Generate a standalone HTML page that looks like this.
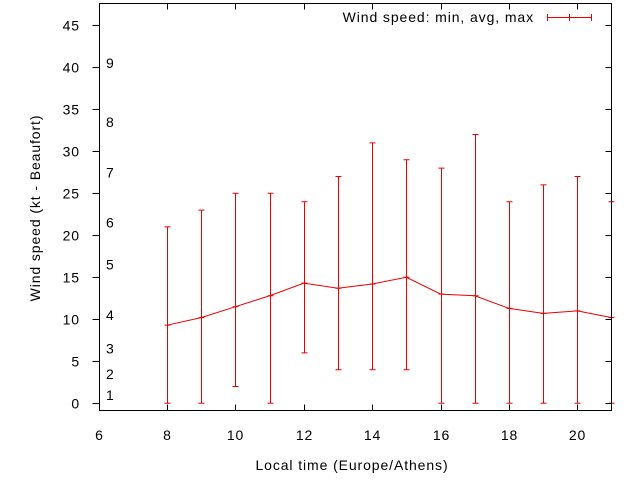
<!DOCTYPE html>
<html><head><meta charset="utf-8"><style>
html,body{margin:0;padding:0;background:#fff}
svg text{font-family:"Liberation Sans",sans-serif;font-size:14px;letter-spacing:0.9px;fill:#000}
</style></head><body>
<svg id="chart" width="640" height="480" xmlns="http://www.w3.org/2000/svg">
<g id="series"></g><g id="axes"></g>
<text x="352" y="470" text-anchor="middle">Local time (Europe/Athens)</text>
<text transform="translate(40,208) rotate(-90)" text-anchor="middle">Wind speed (kt - Beaufort)</text>
<g>
<text x="534" y="22" text-anchor="end">Wind speed: min, avg, max</text>
<path d="M547.5 17.5H591.5M547.5 14V21M569.5 14V21M591.5 14V21" stroke="#e00" stroke-width="1" fill="none"/>
</g>
</svg>
<script>
const hours=[8,9,10,11,12,13,14,15,16,17,18,19,20,21];
const avgSpeed=[9.3,10.2,11.5,12.8,14.3,13.7,14.2,15,13,12.8,11.3,10.7,11,10.2];
const minSpeed=[0,0,2,0,6,4,4,4,0,0,0,0,0,0];
const maxSpeed=[21,23,25,25,24,27,31,29,28,32,24,26,27,24];
const xTicks=[6,8,10,12,14,16,18,20];
const yTicks=[0,5,10,15,20,25,30,35,40,45];
const beaufortLabels=["1","2","3","4","5","6","7","8","9"];
const beaufortValues=[1,3.5,6.5,10.5,16.5,21.5,27.5,33.5,40.5];
const L=99.5,R=611.5,T=3.5,B=410.5;
const X=v=>98.6+(v-6)*34.2;
const Y=v=>403.3-v*8.4;
const NS="http://www.w3.org/2000/svg";
function mk(tag,attrs,parent,txt){const e=document.createElementNS(NS,tag);for(const k in attrs)e.setAttribute(k,attrs[k]);if(txt!==undefined)e.textContent=txt;parent.appendChild(e);return e;}
const sg=document.getElementById('series');
hours.forEach((h,i)=>{const x=Math.min(Math.round(X(h))+0.5,R),y1=Y(minSpeed[i]),y2=Y(maxSpeed[i]);
let e=mk('path',{d:`M${x} ${y1}V${y2}M${x-3} ${y1}h6M${x-3} ${y2}h6M${x-3} ${Y(avgSpeed[i])}h6`,stroke:'#e00',fill:'none'},sg);

});
let ln=mk('polyline',{points:hours.map((h,i)=>Math.min(X(h),R)+','+Y(avgSpeed[i])).join(' '),stroke:'#e00',fill:'none','stroke-width':1},sg);


const ax=document.getElementById('axes');
let f=mk('rect',{x:L,y:T,width:R-L,height:B-T,fill:'none',stroke:'#000','stroke-width':1},ax);


xTicks.forEach(v=>{const x=Math.round(X(v))+0.5;
let t=mk('path',{d:`M${x} ${B}v-6M${x} ${T}v6`,stroke:'#000'},ax);


let l=mk('text',{x:x,y:440,'text-anchor':'middle'},ax,String(v));

});
yTicks.forEach(v=>{const y=Math.round(Y(v))+0.5;
let t=mk('path',{d:`M${L} ${y}h-7M${R} ${y}h-6`,stroke:'#000'},ax);


let l=mk('text',{x:80,y:y+5,'text-anchor':'end'},ax,String(v));

});
beaufortLabels.forEach((s,i)=>{let l=mk('text',{x:106,y:Y(beaufortValues[i])+5},ax,s);

});
</script>
</body></html>
